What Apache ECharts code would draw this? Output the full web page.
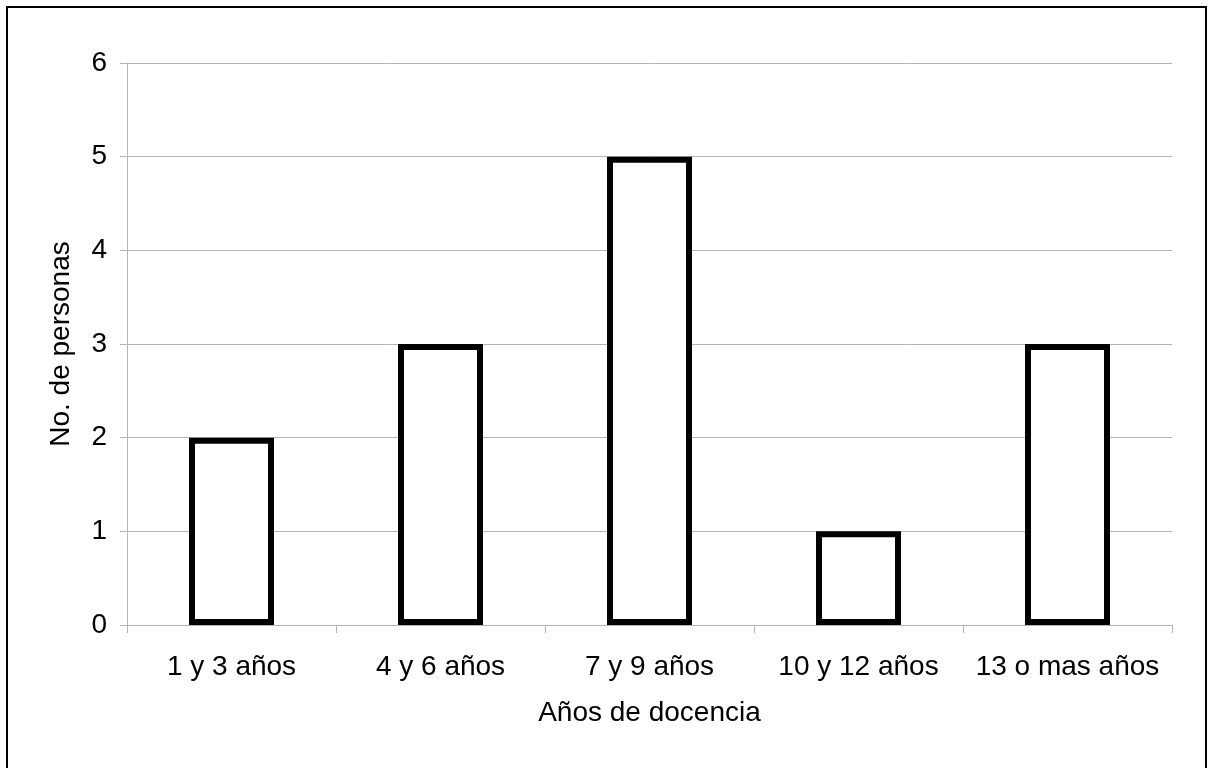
<!DOCTYPE html>
<html>
<head>
<meta charset="utf-8">
<script src="https://cdn.jsdelivr.net/npm/echarts@6/dist/echarts.min.js"></script>
<style>
html,body{margin:0;padding:0;background:#fff;}
#chart{width:1209px;height:768px;}
</style>
</head>
<body>
<div id="chart"></div>
<script>
const categories = ['1 y 3 años', '4 y 6 años', '7 y 9 años', '10 y 12 años', '13 o mas años'];
const values = [2, 3, 5, 1, 3];
const xAxisName = 'Años de docencia';
const yAxisName = 'No. de personas';

const chart = echarts.init(document.getElementById('chart'), null, {renderer: 'canvas'});
const font = '"Liberation Sans", Arial, sans-serif';
chart.setOption({
  animation: false,
  backgroundColor: '#ffffff',
  graphic: [{
    type: 'rect',
    shape: {x: 7, y: 7, width: 1199, height: 800},
    style: {fill: 'none', stroke: '#000', lineWidth: 2},
    silent: true
  }],
  grid: {left: 127, right: 37, top: 63, bottom: 143, containLabel: false},
  xAxis: {
    type: 'category',
    data: categories,
    name: xAxisName,
    nameLocation: 'middle',
    nameGap: 74,
    nameTextStyle: {fontFamily: font, fontSize: 28, color: '#000'},
    axisLine: {lineStyle: {color: '#b4b4b4', width: 1}},
    axisTick: {show: true, length: 8, lineStyle: {color: '#b4b4b4'}},
    axisLabel: {fontFamily: font, fontSize: 28, color: '#000', margin: 28, interval: 0}
  },
  yAxis: {
    type: 'value',
    min: 0, max: 6, interval: 1,
    name: yAxisName,
    nameLocation: 'middle',
    nameRotate: 90,
    nameGap: 52,
    nameTextStyle: {fontFamily: font, fontSize: 28, color: '#000'},
    axisLine: {show: true, lineStyle: {color: '#b4b4b4', width: 1}},
    axisTick: {show: true, length: 7, lineStyle: {color: '#b4b4b4'}},
    axisLabel: {fontFamily: font, fontSize: 28, color: '#000', margin: 20},
    splitLine: {show: true, lineStyle: {color: '#b4b4b4', width: 1}}
  },
  series: [{
    type: 'bar',
    data: values,
    barWidth: 85,
    itemStyle: {color: '#ffffff', borderColor: '#000', borderWidth: 6},
    emphasis: {disabled: true}
  }]
});
</script>
</body>
</html>
